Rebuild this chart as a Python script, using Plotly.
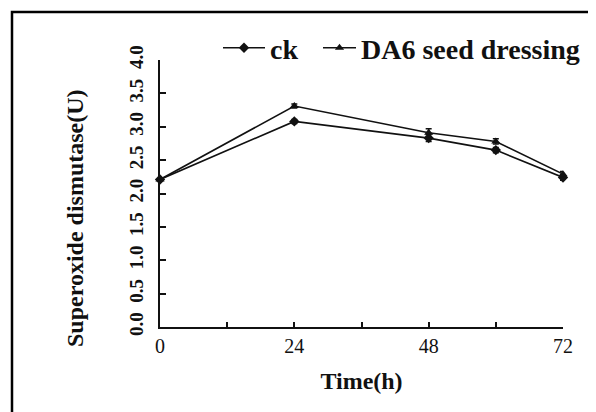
import plotly.graph_objects as go

time_h = [0, 24, 48, 60, 72]
ck = [2.21, 3.08, 2.83, 2.65, 2.24]
ck_err = [0.02, 0.03, 0.05, 0.04, 0.04]
da6 = [2.21, 3.31, 2.91, 2.78, 2.29]
da6_err = [0.02, 0.03, 0.06, 0.04, 0.04]

x_tickvals = [0, 12, 24, 36, 48, 60, 72]
x_ticktext = ["0", "", "24", "", "48", "", "72"]
y_tickvals = [0.0, 0.5, 1.0, 1.5, 2.0, 2.5, 3.0, 3.5, 4.0]
y_ticktext = ["0.0", "0.5", "1.0", "1.5", "2.0", "2.5", "3.0", "3.5", "4.0"]
y_title = "Superoxide dismutase(U)"
x_title = "Time(h)"

FONT = "Liberation Serif"

fig = go.Figure()
fig.add_trace(go.Scatter(
    x=time_h, y=ck, name="ck", mode="lines+markers", legend="legend",
    line=dict(color="#111111", width=1.6),
    marker=dict(symbol="diamond", size=8, color="#111111"),
    error_y=dict(type="data", array=ck_err, color="#111111", thickness=1.5, width=3),
    cliponaxis=False,
))
fig.add_trace(go.Scatter(
    x=time_h, y=da6, name="DA6 seed dressing", mode="lines+markers", legend="legend2",
    line=dict(color="#111111", width=1.6),
    marker=dict(symbol="triangle-up", size=8, color="#111111"),
    error_y=dict(type="data", array=da6_err, color="#111111", thickness=1.5, width=3),
    cliponaxis=False,
))

# the page shows the figure offset by the 8px body margin
OFF = 8
W, H = 596, 412
L, R, T, B = 160 - OFF, W - (563 - OFF), 60 - OFF, H - (327 - OFF)
pw, ph = W - L - R, H - T - B

def px_x(p):
    return (p - OFF - L) / pw

def px_y(p):
    return (H - B - (p - OFF)) / ph

def cx(p):
    return (p - OFF) / W

def cy(p):
    return 1 - (p - OFF) / H

fig.add_shape(type="path", xref="paper", yref="paper",
              path=f"M {px_x(12)} {px_y(430)} L {px_x(12)} {px_y(12)} L {px_x(620)} {px_y(12)}",
              line=dict(color="black", width=2.5))

fig.add_annotation(text=y_title, textangle=-90, xref="paper", yref="paper",
                   x=px_x(75), y=px_y(218), xanchor="center", yanchor="middle",
                   showarrow=False, font=dict(family=FONT, size=24, weight="bold", color="#111111"))

legend_common = dict(orientation="h", xanchor="left", yanchor="middle",
                     xref="container", yref="container",
                     font=dict(family=FONT, size=28, weight="bold", color="#111111"),
                     tracegroupgap=0, bgcolor="rgba(0,0,0,0)", borderwidth=0)

fig.update_layout(
    width=W, height=H,
    margin=dict(l=L, r=R, t=T, b=B, autoexpand=False),
    paper_bgcolor="white", plot_bgcolor="white",
    font=dict(family=FONT, color="#111111"),
    showlegend=True,
    legend=dict(x=cx(218), y=cy(48), itemwidth=42, **legend_common),
    legend2=dict(x=cx(318), y=cy(48), itemwidth=33, **legend_common),
    xaxis=dict(range=[0, 72], tickvals=x_tickvals, ticktext=x_ticktext,
               ticks="inside", ticklen=5, tickwidth=1.5, tickcolor="#111111",
               showline=True, linecolor="#111111", linewidth=1.8,
               showgrid=False, zeroline=False,
               tickfont=dict(family=FONT, size=20),
               title=dict(text=x_title, font=dict(family=FONT, size=24, weight="bold"), standoff=16)),
    yaxis=dict(range=[0, 4.0], tickvals=y_tickvals, ticktext=y_ticktext,
               ticks="inside", ticklen=6, tickwidth=1.5, tickcolor="#111111",
               showline=True, linecolor="#111111", linewidth=1.8,
               showgrid=False, zeroline=False, tickangle=-90,
               ticklabelstandoff=8,
               tickfont=dict(family=FONT, size=19, weight="bold")),
)

fig.write_html("out.html")
